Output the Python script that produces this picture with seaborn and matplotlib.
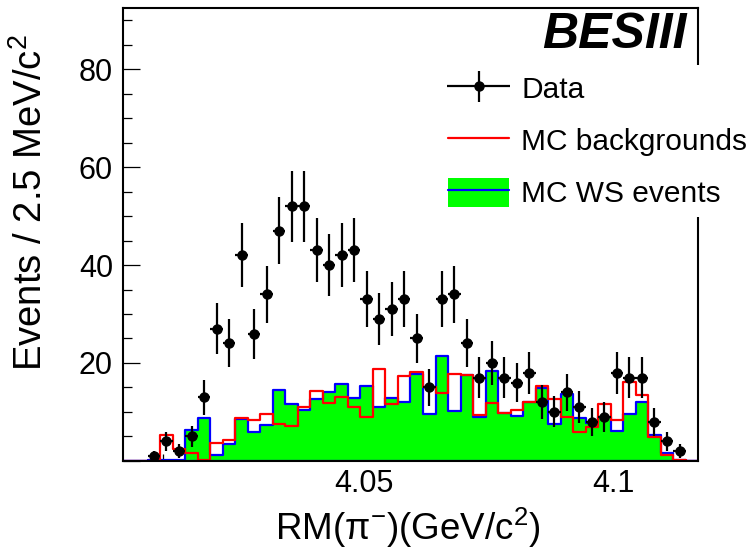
import numpy as np
import pandas as pd
import matplotlib
matplotlib.use("Agg")
import matplotlib.pyplot as plt
import seaborn as sns
from matplotlib.lines import Line2D
from matplotlib.patches import Patch
from matplotlib.container import ErrorbarContainer
from matplotlib.legend_handler import HandlerErrorbar, HandlerTuple
from matplotlib.ticker import MultipleLocator, FuncFormatter

# Binning: 46 bins of 2.5 MeV/c^2
x_lo = 4.0019
bin_w = 0.0025
n_bins = 46

# Events per bin
data_counts = [0, 0, 1, 4, 2, 5, 13, 27, 24, 42, 26, 34, 47, 52, 52, 43,
               40, 42, 43, 33, 29, 31, 33, 25, 15, 33, 34, 24, 17, 20, 17, 16,
               18, 12, 10, 14, 11, 8, 9, 18, 17, 17, 8, 4, 2, 0]
mc_ws = [0, 0, 0.3, 0.3, 0.3, 6.3, 8.7, 1.3, 3.4, 8.6, 5.9, 7.4, 14.4, 11.7, 10.4, 12.7,
         14.1, 15.8, 12.9, 15.3, 11.0, 12.8, 12.0, 17.8, 9.5, 21.4, 10.2, 17.5, 9.0, 18.4, 9.8, 9.2,
         12.1, 14.8, 7.5, 13.6, 8.7, 7.8, 9.0, 6.1, 9.6, 12.1, 5.3, 1.6, 0.2, 0]
mc_bkg = [0, 0, 0, 5.4, 2.4, 1.6, 0.3, 3.6, 4.2, 8.8, 8.4, 9.6, 7.5, 7.1, 11.1, 14.2,
          11.9, 13.1, 11.0, 9.0, 18.8, 11.7, 17.4, 18.2, 15.1, 13.9, 17.8, 17.5, 9.4, 11.8, 9.8, 10.4,
          12.1, 15.4, 12.6, 9.0, 6.0, 6.9, 11.7, 8.3, 16.1, 13.4, 4.8, 1.3, 0.1, 0]

edges = x_lo + bin_w * np.arange(n_bins + 1)
centers = 0.5 * (edges[:-1] + edges[1:])
df = pd.DataFrame({"mass": centers, "data": data_counts, "ws": mc_ws, "bkg": mc_bkg})

sns.set_style("ticks")
plt.rcParams["font.family"] = ["Liberation Sans", "DejaVu Sans"]
plt.rcParams["text.color"] = "black"
plt.rcParams["mathtext.fontset"] = "custom"
plt.rcParams["mathtext.rm"] = "Liberation Sans"
plt.rcParams["mathtext.it"] = "Liberation Sans:italic"
plt.rcParams["mathtext.bf"] = "Liberation Sans:bold"

fig = plt.figure(figsize=(7.49, 5.57), dpi=100)
ax = fig.add_axes([0.1638, 0.1724, 0.7685, 0.8127])

# MC WS events: green filled, blue outline
sns.histplot(data=df, x="mass", weights="ws", bins=list(edges), element="step", fill=True,
             facecolor="#00ff00", edgecolor="#0000ff", alpha=1, linewidth=1.6, ax=ax)
# MC backgrounds: red outline
sns.histplot(data=df, x="mass", weights="bkg", bins=list(edges), element="step", fill=False,
             color="#ff0000", linewidth=1.6, ax=ax)

# Data with sqrt(N) errors
dd = df[df["data"] > 0]
eb = ax.errorbar(dd["mass"], dd["data"], xerr=bin_w / 2,
                 yerr=np.sqrt(dd["data"]), fmt="o", color="black",
                 ms=6.5, elinewidth=1.6, capsize=0, zorder=5)

ax.set_xlim(edges[0], edges[-1])
ax.set_ylim(0, 92.4)
ax.set_xlabel("")
ax.set_ylabel("")

ax.xaxis.set_major_locator(MultipleLocator(0.05))
ax.xaxis.set_minor_locator(MultipleLocator(0.01))
ax.yaxis.set_major_locator(MultipleLocator(20))
ax.yaxis.set_minor_locator(MultipleLocator(5))
ax.xaxis.set_major_formatter(FuncFormatter(lambda v, p: f"{v:g}"))
ax.yaxis.set_major_formatter(FuncFormatter(lambda v, p: "" if abs(v) < 1e-9 else f"{v:g}"))

ax.tick_params(which="both", direction="in", top=False, right=False,
               labelsize=22, width=0.9, color="black", labelcolor="black")
ax.tick_params(axis="x", which="major", length=9.5, pad=6)
ax.tick_params(axis="x", which="minor", length=5)
ax.tick_params(axis="y", which="major", length=12, pad=7)
ax.tick_params(axis="y", which="minor", length=6.5)
for sp in ax.spines.values():
    sp.set_color("black")
    sp.set_linewidth(1.5)

# Legend
h_bkg = Line2D([], [], color="#ff0000", lw=1.6)
h_ws = (Patch(facecolor="#00ff00", edgecolor="none"),
        Line2D([], [], color="#0000ff", lw=1.6))
leg = ax.legend([eb, h_bkg, h_ws], ["Data", "MC backgrounds", "MC WS events"],
                handler_map={ErrorbarContainer: HandlerErrorbar(xerr_size=1.05, yerr_size=0.52),
                             tuple: HandlerTuple(ndivide=1)},
                loc="upper left", bbox_to_anchor=(439 / 749, 1 - 65 / 557),
                bbox_transform=fig.transFigure, borderaxespad=0, borderpad=0.3,
                fontsize=21.5, handlelength=2.05, handleheight=1.1, handletextpad=0.4,
                labelspacing=0.72, frameon=True, fancybox=False, framealpha=1,
                facecolor="white", edgecolor="none", labelcolor="black")
leg.set_zorder(10)

fig.text(687 / 749, 1 - 12 / 557, "BESIII", ha="right", va="top", fontsize=36,
         fontweight="bold", fontstyle="italic")
fig.text(31 / 749, 1 - 203 / 557, "Events / 2.5 MeV/c$^{2}$", rotation=90,
         ha="center", va="center", fontsize=27.5)
fig.text(408 / 749, 1 - 528 / 557, "RM(π$^{-}$)(GeV/c$^{2}$)",
         ha="center", va="center", fontsize=26.5)

fig.savefig("out.png", dpi=100)
